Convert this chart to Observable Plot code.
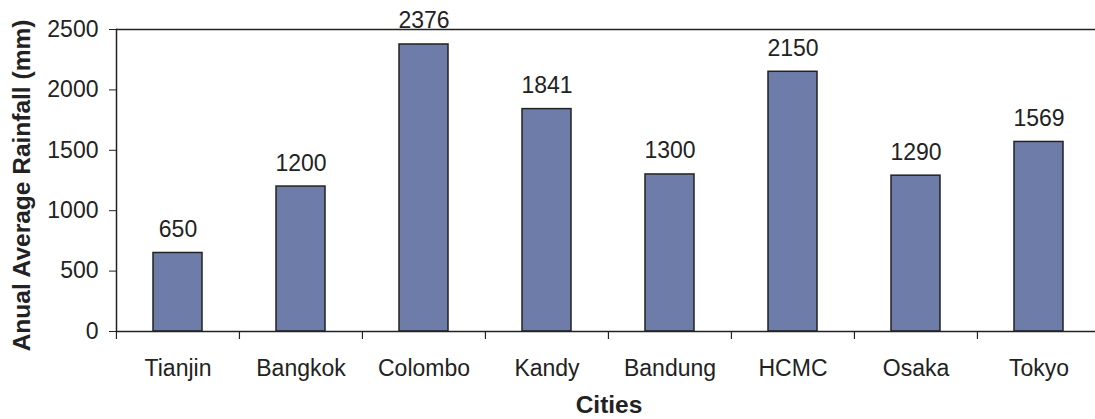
<!DOCTYPE html>
<html>
<head>
<meta charset="utf-8">
<script src="https://cdn.jsdelivr.net/npm/d3@7"></script>
<script src="https://cdn.jsdelivr.net/npm/@observablehq/plot@0.6"></script>
<style>
  html, body { margin: 0; padding: 0; background: #fff; }
  #chart svg { display: block; overflow: visible; }
</style>
</head>
<body>
<div id="chart"></div>
<script>
// Annual average rainfall per city
const cities = ["Tianjin", "Bangkok", "Colombo", "Kandy", "Bandung", "HCMC", "Osaka", "Tokyo"];
const rainfall = [650, 1200, 2376, 1841, 1300, 2150, 1290, 1569];
const yTicks = [0, 500, 1000, 1500, 2000, 2500];
const xTitle = "Cities";
const yTitle = "Anual Average Rainfall (mm)";

const data = cities.map((city, i) => ({city, value: rainfall[i]}));

const width = 1095, height = 419;
const marginLeft = 116, marginRight = -6, marginTop = 29, marginBottom = 88;
const step = (width - marginLeft - marginRight) / cities.length;
const font = "Arial, 'Liberation Sans', sans-serif";
const ink = "#222";

const chart = Plot.plot({
  width, height, marginLeft, marginRight, marginTop, marginBottom,
  style: {fontFamily: font, color: ink, background: "#fff"},
  x: {domain: cities, paddingInner: 0.6, paddingOuter: 0.3, align: 0.5, label: null},
  y: {domain: [0, 2500], label: null},
  marks: [
    // bars
    Plot.barY(data, {x: "city", y: "value", fill: "#6d7ca9", stroke: ink, strokeWidth: 1.5}),
    // value labels
    Plot.text(data, {x: "city", y: "value", text: d => String(d.value), lineAnchor: "bottom", dy: -16, fontSize: 23, fill: ink}),
    // axis lines
    Plot.ruleY([0], {stroke: ink, strokeWidth: 1.5}),
    Plot.ruleY([2500], {stroke: ink, strokeWidth: 1.5}),
    Plot.frame({anchor: "left", stroke: ink, strokeWidth: 1.5}),
    // y axis
    Plot.axisY({ticks: yTicks, tickFormat: d => String(d), tickSize: 7, tickPadding: 11, fontSize: 23, stroke: ink, fill: ink, label: null}),
    // category labels between boundary ticks
    Plot.axisX({tickSize: 0, tickPadding: 28, fontSize: 23, fill: ink, label: null}),
    // tick marks at category boundaries
    Plot.ruleX(cities, {x: d => d, y1: 0, y2: 0, dx: -step / 2, insetBottom: -8, stroke: ink, strokeWidth: 1.2}),
    // axis titles
    Plot.text([xTitle], {frameAnchor: "bottom", dy: 74, text: d => d, fontSize: 24.5, fontWeight: "bold", fill: ink, lineAnchor: "middle"}),
    Plot.text([yTitle], {frameAnchor: "left", dx: -94, dy: 5, rotate: -90, text: d => d, fontSize: 24.5, fontWeight: "bold", fill: ink, textAnchor: "middle", lineAnchor: "middle"})
  ]
});

document.getElementById("chart").appendChild(chart);
</script>
</body>
</html>
